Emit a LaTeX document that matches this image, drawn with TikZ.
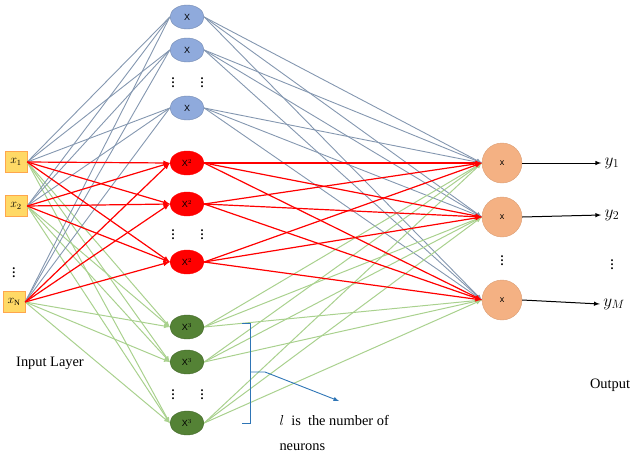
\documentclass[tikz,border=0pt]{standalone}
\usepackage{fontspec}
\setmainfont{Liberation Serif}
\newfontfamily\sans{Liberation Sans}
\usetikzlibrary{shapes.geometric}
\definecolor{bfill}{HTML}{8FAADC}
\definecolor{bline}{HTML}{8497B0}
\definecolor{gfill}{HTML}{548235}
\definecolor{gline}{HTML}{A9D18E}
\definecolor{ofill}{HTML}{F4B183}
\definecolor{ifill}{HTML}{FFD966}
\definecolor{brace}{HTML}{2E75B6}
\begin{document}
\begin{tikzpicture}[x=1pt,y=-1pt,
 inp/.style={draw=orange!70,fill=ifill,minimum width=22pt,minimum height=21pt,inner sep=0pt,font=\large},
 hid/.style={ellipse,minimum width=34pt,minimum height=24pt,inner sep=0pt,font=\sans\small},
 bh/.style={hid,fill=bfill,draw=bfill!80!black},
 rh/.style={hid,fill=red,draw=red},
 gh/.style={hid,fill=gfill,draw=gfill!80!black},
 outn/.style={circle,minimum size=40pt,inner sep=0pt,fill=ofill,draw=ofill!90!black,font=\sans\small},
 bl/.style={draw=bline,line width=0.9pt},
 rl/.style={draw=red,line width=1.2pt,-latex},
 gl/.style={draw=gline,line width=1pt},
 dots/.style={font=\bfseries\large,inner sep=0pt}]
\useasboundingbox (0,0) rectangle (640,450);
\node[inp] (i1) at (16,162) {$x_1$};
\node[inp] (i2) at (16,206) {$x_2$};
\node[inp] (iN) at (14,302) {$x_{\mathrm{N}}$};
\node[dots] at (14,270) {$\vdots$};
\node[bh] (b1) at (187,17) {X};
\node[bh] (b2) at (187,50) {X};
\node[bh] (b3) at (187,108) {X};
\node[rh] (r1) at (187,163) {X$^2$};
\node[rh] (r2) at (187,204) {X$^2$};
\node[rh] (r3) at (187,262) {X$^2$};
\node[gh] (g1) at (187,327) {X$^3$};
\node[gh] (g2) at (187,362) {X$^3$};
\node[gh] (g3) at (187,423) {X$^3$};
\foreach \y in {80,232,392}{\node[dots] at (173,\y) {$\vdots$};\node[dots] at (202,\y) {$\vdots$};}
\node[outn] (o1) at (502,163) {x};
\node[outn] (o2) at (502,217) {x};
\node[outn] (o3) at (502,300) {x};
\node[dots] at (502,258) {$\vdots$};
\node (y1) at (612,163) {\LARGE$y_1$};
\node (y2) at (612,215) {\LARGE$y_2$};
\node (yM) at (614,304) {\LARGE$y_M$};
\node[dots] at (612,262) {$\vdots$};
\foreach \i in {i1,i2,iN}{
 \foreach \h in {b1,b2,b3} \draw[bl] (\i.east) -- (\h.west);
 \foreach \h in {g1,g2,g3} \draw[gl,-latex] (\i.east) -- (\h.west);
}
\foreach \h in {b1,b2,b3} \foreach \o in {o1,o2,o3} \draw[bl,-latex] (\h.east) -- (\o.west);
\foreach \h in {g1,g2,g3} \foreach \o in {o1,o2,o3} \draw[gl,-latex] (\h.east) -- (\o.west);
\foreach \i in {i1,i2,iN} \foreach \h in {r1,r2,r3} \draw[rl] (\i.east) -- (\h.west);
\foreach \h in {r1,r2,r3} \foreach \o in {o1,o2,o3} \draw[rl] (\h.east) -- (\o.west);
\draw[-latex,line width=1pt] (o1.east) -- (y1.west);
\draw[-latex,line width=1pt] (o2.east) -- (y2.west);
\draw[-latex,line width=1pt] (o3.east) -- (yM.west);
\coordinate (bt) at (242,323); \coordinate (bb) at (242,423); \coordinate (bm) at (250,372); \coordinate (be) at (339,401);
\draw[brace,line width=0.9pt] (bt) -- (250,323) -- (250,423) -- (bb);
\draw[brace,line width=0.9pt,-latex] (bm) -- (265,372) -- (be);
\node[anchor=west,font=\Large] (t1) at (276,420) {$l$\ \ is\ \ the number of};
\node[anchor=west,font=\Large] (t2) at (276,447) {neurons};
\node[font=\Large] (il) at (50,363) {Input Layer};
\node[font=\Large] (ol) at (610,385) {Output};
\end{tikzpicture}
\end{document}
